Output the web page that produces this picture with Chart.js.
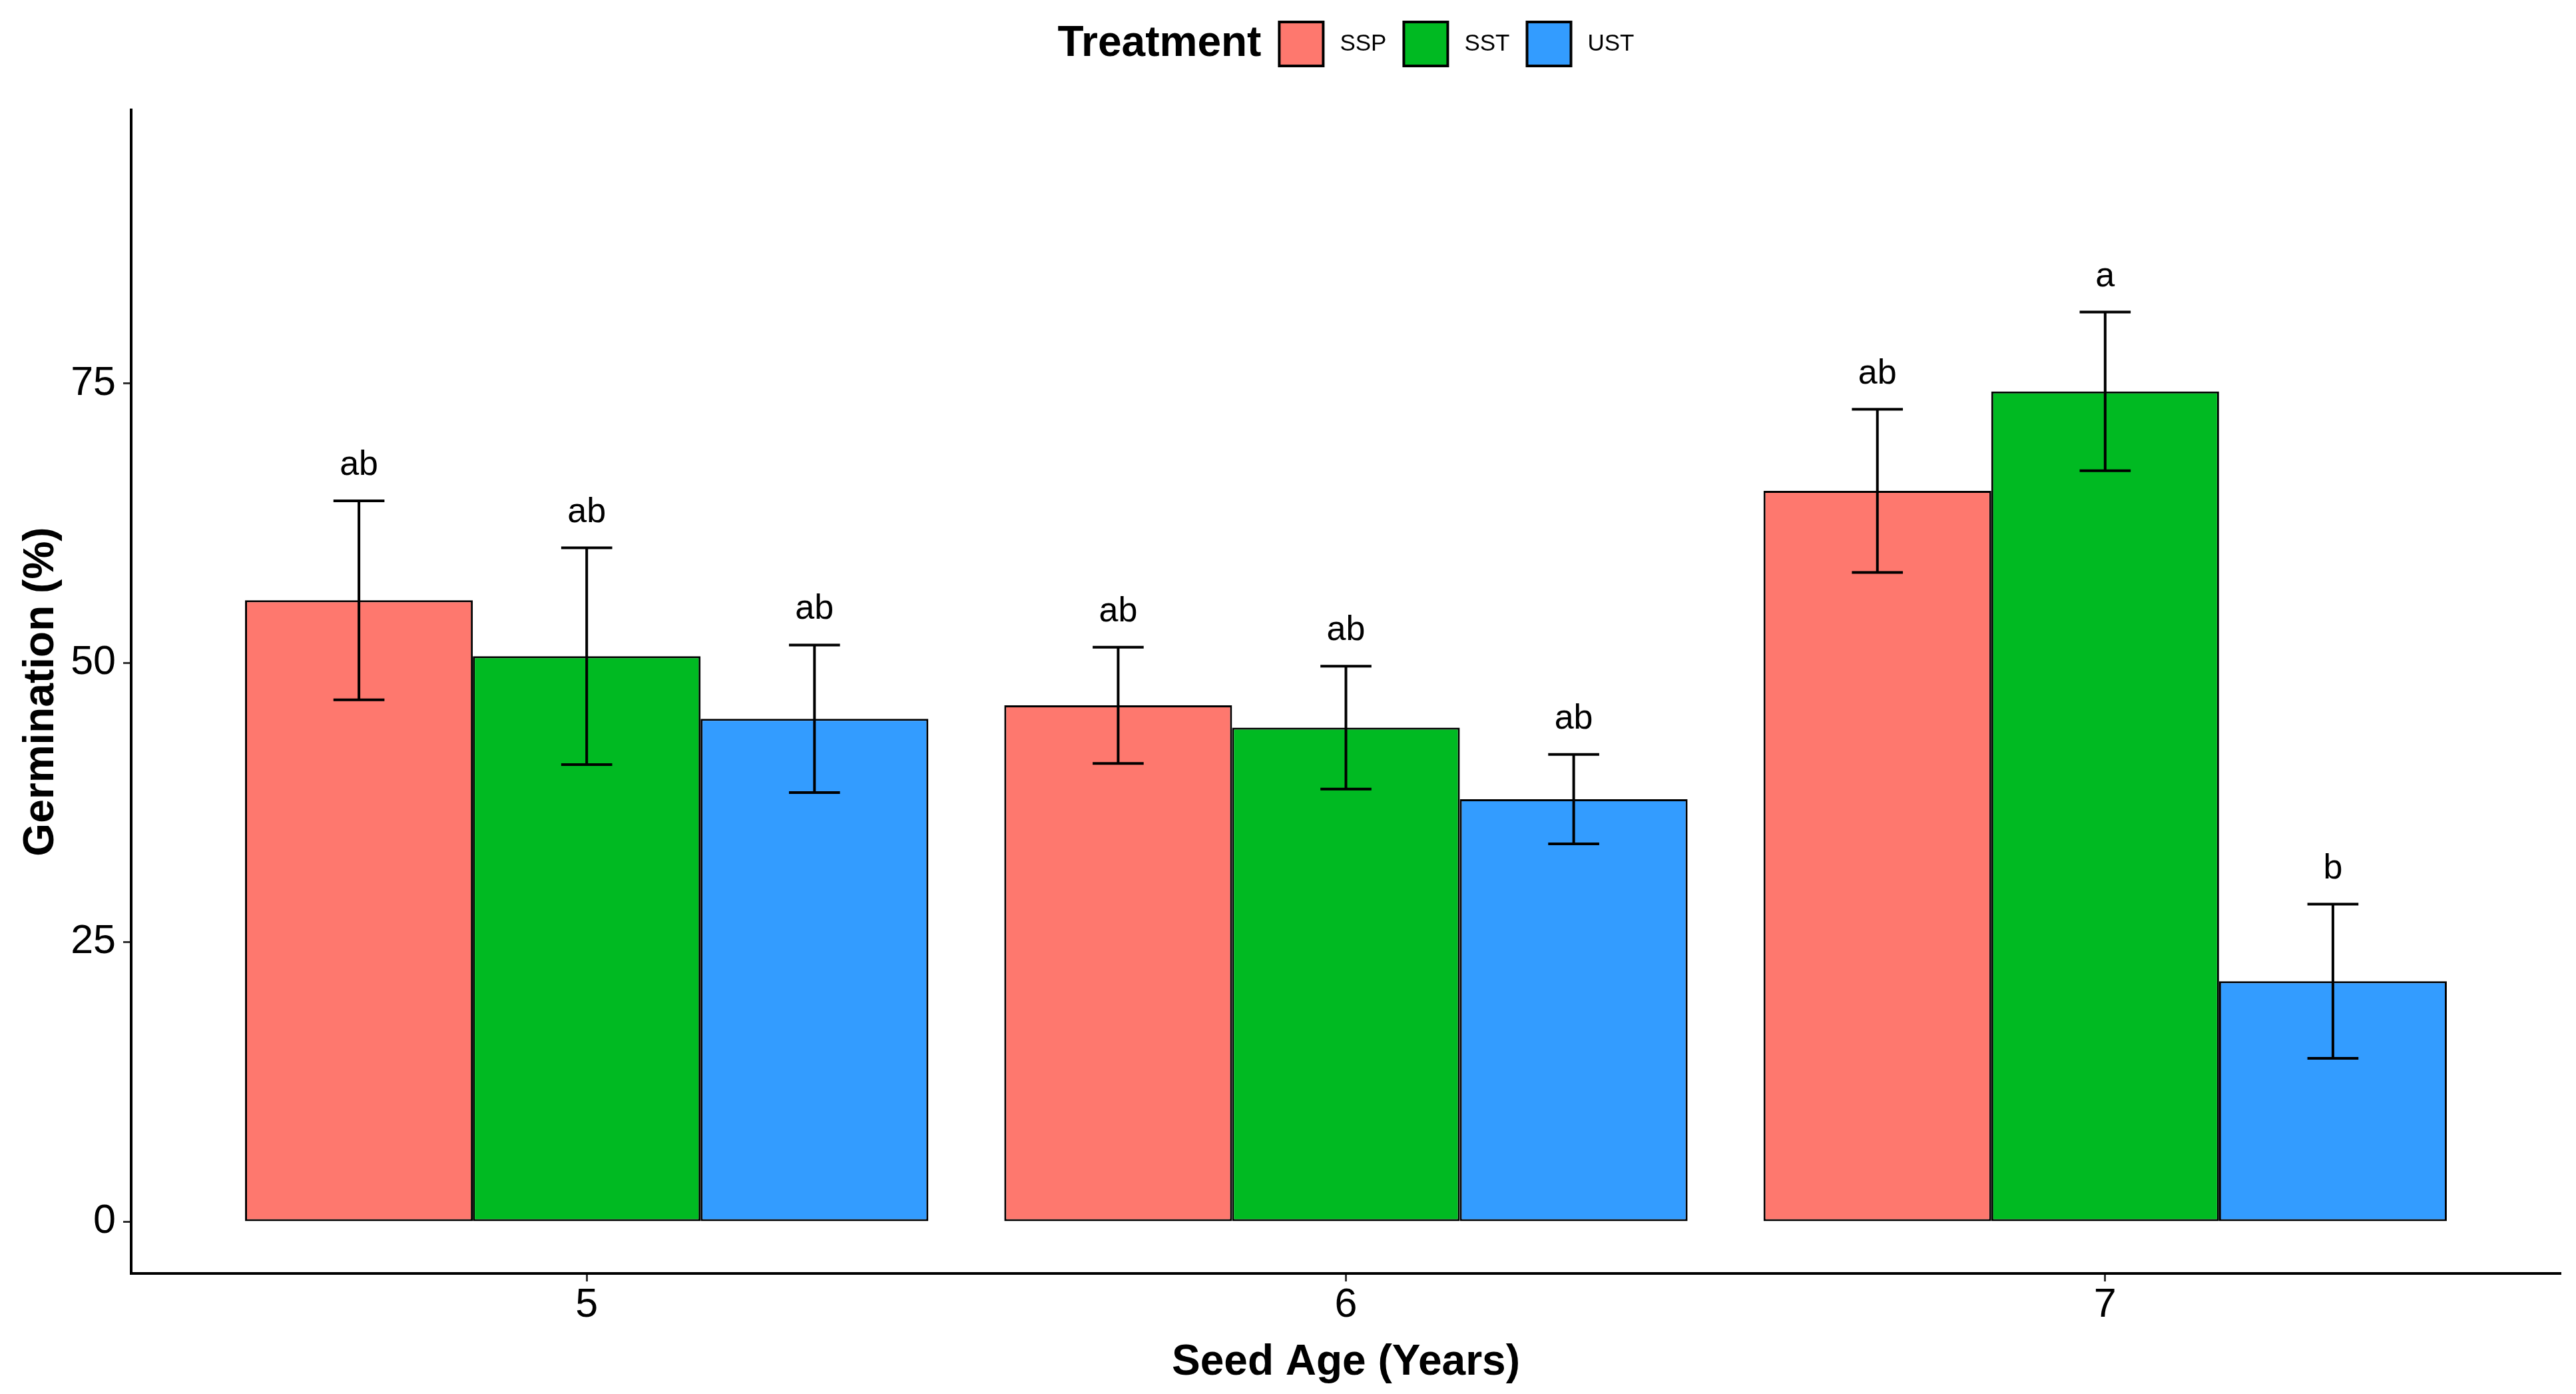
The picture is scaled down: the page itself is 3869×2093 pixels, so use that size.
<!DOCTYPE html>
<html>
<head>
<meta charset="utf-8">
<title>Germination by seed age</title>
<script src="https://cdn.jsdelivr.net/npm/chart.js@4.4.1/dist/chart.umd.min.js"></script>
<style>
  html, body { margin: 0; padding: 0; background: #fff; }
  #wrap { width: 3869px; height: 2093px; }
</style>
</head>
<body>
<div id="wrap"><canvas id="germChart"></canvas></div>
<script>
const FONT = "'Liberation Sans', Arial, sans-serif";

// seed age (years)
const seedAges = [5, 6, 7];
const yTicks = [0, 25, 50, 75];

// mean germination (%) and error per treatment
const sspMean = [55.6, 46.2, 65.4];
const sspErr = [8.9, 5.2, 7.3];
const sstMean = [50.6, 44.2, 74.3];
const sstErr = [9.7, 5.5, 7.1];
const ustMean = [45.0, 37.8, 21.5];
const ustErr = [6.6, 4.0, 6.9];

// significance letters
const sspLetters = ["ab", "ab", "ab"];
const sstLetters = ["ab", "ab", "a"];
const ustLetters = ["ab", "ab", "b"];

function points(values) {
  return values.map((v, i) => ({ x: seedAges[i], y: v }));
}

function makeSet(label, values, errors, letters, color) {
  return {
    label: label,
    data: points(values),
    errors: errors,
    letters: letters,
    backgroundColor: color,
    borderColor: "#000",
    borderWidth: 3,
    borderSkipped: false,
    categoryPercentage: 0.9,
    barPercentage: 1.0,
  };
}

// error bars + letters above them
const errorBars = {
  id: "errorBars",
  afterDatasetsDraw(chart) {
    const ctx = chart.ctx;
    const y = chart.scales.y;
    ctx.save();
    chart.data.datasets.forEach((ds, di) => {
      const meta = chart.getDatasetMeta(di);
      meta.data.forEach((bar, i) => {
        const mean = ds.data[i].y;
        const err = ds.errors[i];
        const top = y.getPixelForValue(mean + err);
        const bot = y.getPixelForValue(mean - err);
        const half = bar.width * 0.112;
        ctx.strokeStyle = "#000";
        ctx.lineWidth = 4;
        ctx.beginPath();
        ctx.moveTo(bar.x, top);
        ctx.lineTo(bar.x, bot);
        ctx.moveTo(bar.x - half, top);
        ctx.lineTo(bar.x + half, top);
        ctx.moveTo(bar.x - half, bot);
        ctx.lineTo(bar.x + half, bot);
        ctx.stroke();

        ctx.fillStyle = "#000";
        ctx.font = "52px " + FONT;
        ctx.textAlign = "center";
        ctx.textBaseline = "alphabetic";
        ctx.fillText(ds.letters[i], bar.x, top - 39);
      });
    });
    ctx.restore();
  },
};

// legend in one row: "Treatment" then keys
const topLegend = {
  id: "topLegend",
  afterDraw(chart) {
    const ctx = chart.ctx;
    const area = chart.chartArea;
    const box = 66, gapTitle = 27, gapText = 25, gapItem = 26;
    const cy = 66;
    ctx.save();
    ctx.font = "bold 64px " + FONT;
    const titleW = ctx.measureText("Treatment").width;
    ctx.font = "35px " + FONT;
    const sets = chart.data.datasets;
    const labelW = sets.map((ds) => ctx.measureText(ds.label).width);
    let total = titleW + gapTitle;
    labelW.forEach((w, i) => {
      total += box + gapText + w + (i < labelW.length - 1 ? gapItem : 0);
    });
    let x = (area.left + area.right) / 2 - total / 2;

    ctx.fillStyle = "#000";
    ctx.textAlign = "left";
    ctx.textBaseline = "middle";
    ctx.font = "bold 64px " + FONT;
    ctx.fillText("Treatment", x, cy);
    x += titleW + gapTitle;

    ctx.font = "35px " + FONT;
    sets.forEach((ds, i) => {
      ctx.fillStyle = ds.backgroundColor;
      ctx.fillRect(x, cy - box / 2, box, box);
      ctx.strokeStyle = "#000";
      ctx.lineWidth = 4;
      ctx.strokeRect(x, cy - box / 2, box, box);
      x += box + gapText;
      ctx.fillStyle = "#000";
      ctx.fillText(ds.label, x, cy);
      x += labelW[i] + gapItem;
    });
    ctx.restore();
  },
};

const ctx = document.getElementById("germChart").getContext("2d");

new Chart(ctx, {
  type: "bar",
  data: {
    datasets: [
      makeSet("SSP", sspMean, sspErr, sspLetters, "#FE786E"),
      makeSet("SST", sstMean, sstErr, sstLetters, "#00BA22"),
      makeSet("UST", ustMean, ustErr, ustLetters, "#339CFF"),
    ],
  },
  options: {
    responsive: true,
    maintainAspectRatio: false,
    animation: false,
    layout: { padding: { top: 165, right: 23, bottom: 0, left: 0 } },
    plugins: {
      legend: { display: false },
      tooltip: { enabled: false },
    },
    scales: {
      x: {
        type: "linear",
        min: 4.4,
        max: 7.6,
        offset: false,
        afterBuildTicks: (scale) => {
          scale.ticks = seedAges.map((v) => ({ value: v }));
        },
        afterFit: (scale) => {
          scale.height = 181;
        },
        ticks: {
          color: "#000",
          padding: 0,
          font: { family: FONT, size: 61 },
        },
        grid: {
          offset: false,
          drawOnChartArea: false,
          tickLength: 12,
          tickColor: "#333",
          tickWidth: 3,
        },
        border: { display: true, color: "#000", width: 4 },
        title: {
          display: true,
          text: "Seed Age (Years)",
          color: "#000",
          padding: { top: 0, bottom: 8 },
          font: { family: FONT, size: 64, weight: "bold" },
        },
      },
      y: {
        min: -4.65,
        max: 99.5,
        afterBuildTicks: (scale) => {
          scale.ticks = yTicks.map((v) => ({ value: v }));
        },
        afterFit: (scale) => {
          scale.width = 197;
        },
        ticks: {
          color: "#000",
          padding: 11,
          font: { family: FONT, size: 61 },
        },
        grid: {
          drawOnChartArea: false,
          tickLength: 12,
          tickColor: "#333",
          tickWidth: 3,
        },
        border: { display: true, color: "#000", width: 4 },
        title: {
          display: true,
          text: "Germination (%)",
          color: "#000",
          padding: { top: 24, bottom: 0 },
          font: { family: FONT, size: 64, weight: "bold" },
        },
      },
    },
  },
  plugins: [errorBars, topLegend],
});
</script>
</body>
</html>
